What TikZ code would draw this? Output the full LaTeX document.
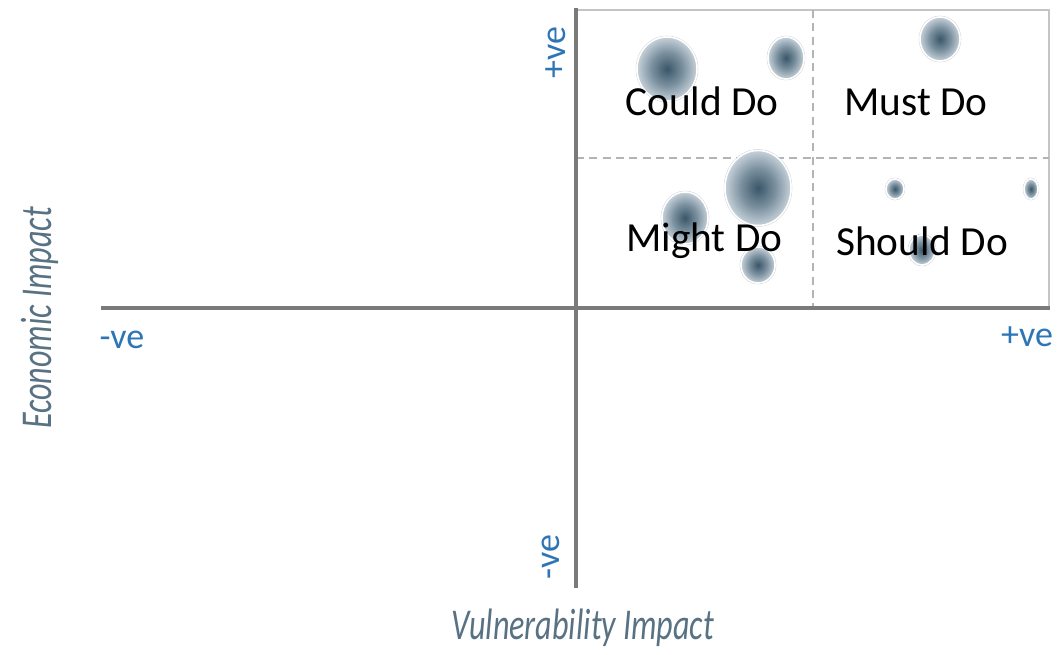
\documentclass[tikz,border=0pt]{standalone}
\usepackage{fontspec}
\setmainfont{Carlito}
\usetikzlibrary{shapes.geometric}
\definecolor{axisgray}{HTML}{7A7A7A}
\definecolor{boxgray}{HTML}{C4C4C4}
\definecolor{dashgray}{HTML}{B4B4B4}
\definecolor{veblue}{HTML}{2E75B6}
\definecolor{titlecol}{HTML}{587284}
\definecolor{bubdark}{HTML}{3A5668}
\definecolor{bubmid}{HTML}{7A909F}
\definecolor{bublight}{HTML}{C6D1D9}
\pgfdeclareradialshading{bubshade}{\pgfpoint{0bp}{0bp}}{color(0bp)=(bubdark); color(13bp)=(bubmid); color(25bp)=(bublight); color(50bp)=(bublight)}
\tikzset{
  axisline/.style={draw=axisgray, line width=3pt},
  boxline/.style={draw=boxgray, line width=1.6pt},
  divline/.style={draw=dashgray, line width=1.5pt, dash pattern=on 6pt off 4pt},
  bub/.style 2 args={ellipse, shading=bubshade, draw=white, line width=1.1pt, inner sep=0pt,
    minimum width=#1*0.75pt, minimum height=#2*0.75pt},
  bubring/.style 2 args={ellipse, draw=black!18, line width=0.4pt, inner sep=0pt,
    minimum width=#1*0.75pt+1.5pt, minimum height=#2*0.75pt+1.5pt},
  quad/.style={anchor=base west, inner sep=0pt, font=\fontsize{31}{36}\selectfont, text=black},
  velab/.style={inner sep=0pt, text=veblue, font=\fontsize{27}{32}\selectfont},
  axtitle/.style={inner sep=0pt, text=titlecol, font=\fontsize{33}{38}\selectfont\itshape}
}
\begin{document}
\begin{tikzpicture}[x=0.75pt,y=-0.75pt]
\useasboundingbox (0,0) rectangle (1057,655);
% coordinates
\coordinate (tl) at (576,10);
\coordinate (tr) at (1049,10);
\coordinate (br) at (1049,308);
\coordinate (vtop) at (576,8);
\coordinate (vbot) at (576,588);
\coordinate (hleft) at (101,308);
\coordinate (hright) at (1050,308);
\coordinate (dvt) at (813,10);
\coordinate (dvb) at (813,308);
\coordinate (dhl) at (576,158);
\coordinate (dhr) at (1049,158);
% box
\draw[boxline] (tl) -- (tr) -- (br);
\draw[divline] (dvt) -- (dvb);
\draw[divline] (dhl) -- (dhr);
% bubbles
\foreach \n/\x/\y/\w/\h in {b1/667/69/60/64, b2/786/58/36/42, b3/940/39/40/44,
  b4/758/188/66/75, b5/685/218/46/52, b6/758/265/34/36,
  b7/895/189/18/20, b8/1031/189/14/20, b9/922/250/26/30}{
  \node[bubring={\w}{\h}] (\n r) at (\x,\y) {};
  \node[bub={\w}{\h}] (\n) at (\x,\y) {};
}
% axes
\draw[axisline] (hleft) -- (hright);
\draw[axisline] (vtop) -- (vbot);
% quadrant labels
\node[quad] (could) at (625,116) {Could Do};
\node[quad] (must) at (844,116) {Must Do};
\node[quad] (might) at (626,252) {Might Do};
\node[quad] (should) at (836,256) {Should Do};
% axis end labels
\node[velab, rotate=90] (ytop) at (556,53) {+ve};
\node[velab, rotate=90] (ybot) at (551,557) {-ve};
\node[velab] (xleft) at (122,340) {-ve};
\node[velab] (xright) at (1027,337) {+ve};
% axis titles
\node[axtitle, rotate=90] (ytitle) at (40,318) {\scalebox{0.73}[1]{Economic Impact}};
\node[axtitle] (xtitle) at (583,628) {\scalebox{0.73}[1]{Vulnerability Impact}};
\end{tikzpicture}
\end{document}
